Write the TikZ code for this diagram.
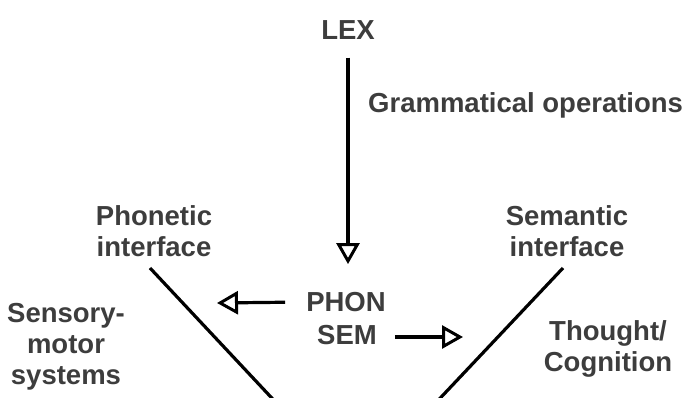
\documentclass[tikz,border=0pt]{standalone}
\usepackage{fontspec}
\setmainfont{Liberation Sans}
\usetikzlibrary{arrows.meta, positioning}

\begin{document}
\begin{tikzpicture}
  [
    x=1pt, y=-1pt,
    Label/.style={font=\fontsize{27.5}{31}\selectfont\bfseries, text=black!76, align=center, inner sep=0pt},
    Flow/.style={draw, line width=3.2pt, -{Triangle[open, length=21pt, width=23pt, line width=3pt]}},
    Side/.style={draw, line width=3.2pt}
  ]
  \useasboundingbox (0,0) rectangle (689,398);

  % Nodes
  \node[Label] (lex) at (348, 30) {LEX};
  \node[Label, anchor=west] (gram) at (368, 105) {Grammatical operations};
  \node[Label] (phon) at (346, 302) {PHON};
  \node[Label] (sem) at (347, 335) {SEM};
  \node[Label] (phonint) at (154, 231) {Phonetic\\interface};
  \node[Label] (semint) at (567, 231) {Semantic\\interface};
  \node[Label] (sensory) at (66, 347) {Sensory-\\motor\\systems};
  \node[Label] (thought) at (608, 349) {Thought/\\Cognition};

  \coordinate (phontip) at (217, 303);
  \coordinate (semtip) at (463, 337);
  \coordinate (pv1) at (150, 268);
  \coordinate (pv2) at (283, 410);
  \coordinate (sv1) at (563, 268);
  \coordinate (sv2) at (429, 410);

  % Lines
  \path [Flow, shorten <=18pt, shorten >=28pt] (lex) -- (lex |- phon.north);
  \path [Flow, shorten <=21pt] (phon.west) -- (phontip);
  \path [Flow, shorten <=18pt] (sem.east |- semtip) -- (semtip);
  \path [Side] (pv1) -- (pv2);
  \path [Side] (sv1) -- (sv2);

\end{tikzpicture}
\end{document}
